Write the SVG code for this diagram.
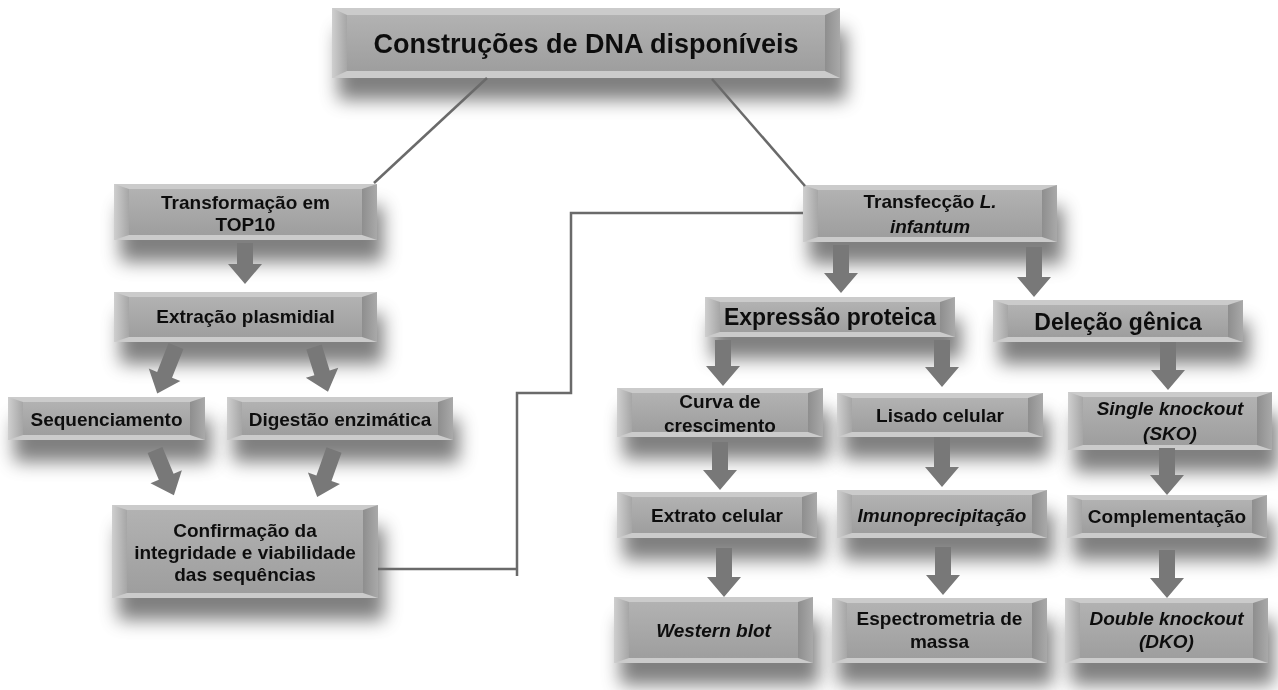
<svg xmlns="http://www.w3.org/2000/svg" width="1278" height="690" viewBox="0 0 1278 690">
<style>
.base{fill:#cbcbcb}
.face{fill:url(#gFace)}
.bl{fill:url(#gLeft)}
.br{fill:url(#gRight)}
.t{font-family:"Liberation Sans",Arial,sans-serif;font-weight:bold;font-size:19px;fill:#111;text-anchor:middle}
.it{font-style:italic}
.big{font-size:23px}
.conn{fill:none;stroke:#6a6a6a;stroke-width:2.5}
.arr{fill:#787878}
</style>
<defs>
<linearGradient id="gFace" x1="0" y1="0" x2="0" y2="1"><stop offset="0" stop-color="#b2b2b2"/><stop offset="1" stop-color="#9e9e9e"/></linearGradient>
<linearGradient id="gLeft" x1="0" y1="0" x2="1" y2="0"><stop offset="0" stop-color="#cfcfcf"/><stop offset="1" stop-color="#a6a6a6"/></linearGradient>
<linearGradient id="gRight" x1="0" y1="0" x2="1" y2="0"><stop offset="0" stop-color="#8e8e8e"/><stop offset="1" stop-color="#a9a9a9"/></linearGradient>
<filter id="sh" x="-25%" y="-50%" width="155%" height="320%">
<feGaussianBlur in="SourceAlpha" stdDeviation="9"/>
<feOffset dx="6" dy="22" result="b"/>
<feFlood flood-color="#000" flood-opacity="0.5"/>
<feComposite in2="b" operator="in"/>
<feMerge><feMergeNode/><feMergeNode in="SourceGraphic"/></feMerge>
</filter>
</defs>
<rect width="1278" height="690" fill="#fff"/>

<g id="n-top" filter="url(#sh)">
<rect class="base" x="332" y="8" width="508" height="70"/>
<rect class="face" x="347" y="15" width="478" height="56"/>
<polygon class="bl" points="332,8 347,15 347,71 332,78"/>
<polygon class="br" points="840,8 825,15 825,71 840,78"/>
<text class="t" style="font-size:27px" x="586" y="53">Construções de DNA disponíveis</text>
</g>

<g id="n-transf" filter="url(#sh)">
<rect class="base" x="114" y="184" width="263" height="56"/>
<rect class="face" x="129" y="189" width="233" height="46"/>
<polygon class="bl" points="114,184 129,189 129,235 114,240"/>
<polygon class="br" points="377,184 362,189 362,235 377,240"/>
<text class="t" x="245.5" y="209">Transformação em</text>
<text class="t" x="245.5" y="231">TOP10</text>
</g>

<g id="n-extr" filter="url(#sh)">
<rect class="base" x="114" y="292" width="263" height="50"/>
<rect class="face" x="129" y="297" width="233" height="40"/>
<polygon class="bl" points="114,292 129,297 129,337 114,342"/>
<polygon class="br" points="377,292 362,297 362,337 377,342"/>
<text class="t" x="245.5" y="323">Extração plasmidial</text>
</g>

<g id="n-seq" filter="url(#sh)">
<rect class="base" x="8" y="397" width="197" height="43"/>
<rect class="face" x="23" y="402" width="167" height="33"/>
<polygon class="bl" points="8,397 23,402 23,435 8,440"/>
<polygon class="br" points="205,397 190,402 190,435 205,440"/>
<text class="t" x="106.5" y="426">Sequenciamento</text>
</g>

<g id="n-dig" filter="url(#sh)">
<rect class="base" x="227" y="397" width="226" height="43"/>
<rect class="face" x="242" y="402" width="196" height="33"/>
<polygon class="bl" points="227,397 242,402 242,435 227,440"/>
<polygon class="br" points="453,397 438,402 438,435 453,440"/>
<text class="t" x="340" y="426">Digestão enzimática</text>
</g>

<g id="n-conf" filter="url(#sh)">
<rect class="base" x="112" y="505" width="266" height="93"/>
<rect class="face" x="127" y="510" width="236" height="83"/>
<polygon class="bl" points="112,505 127,510 127,593 112,598"/>
<polygon class="br" points="378,505 363,510 363,593 378,598"/>
<text class="t" x="245" y="537">Confirmação da</text>
<text class="t" x="245" y="559">integridade e viabilidade</text>
<text class="t" x="245" y="581">das sequências</text>
</g>

<g id="n-transfec" filter="url(#sh)">
<rect class="base" x="803" y="185" width="254" height="57"/>
<rect class="face" x="818" y="190" width="224" height="47"/>
<polygon class="bl" points="803,185 818,190 818,237 803,242"/>
<polygon class="br" points="1057,185 1042,190 1042,237 1057,242"/>
<text class="t" x="930" y="208">Transfecção <tspan class="it">L.</tspan></text>
<text class="t it" x="930" y="233">infantum</text>
</g>

<g id="n-expr" filter="url(#sh)">
<rect class="base" x="705" y="297" width="250" height="40"/>
<rect class="face" x="720" y="302" width="220" height="30"/>
<polygon class="bl" points="705,297 720,302 720,332 705,337"/>
<polygon class="br" points="955,297 940,302 940,332 955,337"/>
<text class="t big" x="830" y="325">Expressão proteica</text>
</g>

<g id="n-del" filter="url(#sh)">
<rect class="base" x="993" y="300" width="250" height="42"/>
<rect class="face" x="1008" y="305" width="220" height="32"/>
<polygon class="bl" points="993,300 1008,305 1008,337 993,342"/>
<polygon class="br" points="1243,300 1228,305 1228,337 1243,342"/>
<text class="t big" x="1118" y="330">Deleção gênica</text>
</g>

<g id="n-curva" filter="url(#sh)">
<rect class="base" x="617" y="388" width="206" height="49"/>
<rect class="face" x="632" y="393" width="176" height="39"/>
<polygon class="bl" points="617,388 632,393 632,432 617,437"/>
<polygon class="br" points="823,388 808,393 808,432 823,437"/>
<text class="t" x="720" y="408">Curva de</text>
<text class="t" x="720" y="432">crescimento</text>
</g>

<g id="n-lisado" filter="url(#sh)">
<rect class="base" x="837" y="393" width="206" height="44"/>
<rect class="face" x="852" y="398" width="176" height="34"/>
<polygon class="bl" points="837,393 852,398 852,432 837,437"/>
<polygon class="br" points="1043,393 1028,398 1028,432 1043,437"/>
<text class="t" x="940" y="422">Lisado celular</text>
</g>

<g id="n-sko" filter="url(#sh)">
<rect class="base" x="1068" y="392" width="204" height="58"/>
<rect class="face" x="1083" y="397" width="174" height="48"/>
<polygon class="bl" points="1068,392 1083,397 1083,445 1068,450"/>
<polygon class="br" points="1272,392 1257,397 1257,445 1272,450"/>
<text class="t it" x="1170" y="415">Single knockout</text>
<text class="t it" x="1170" y="440">(SKO)</text>
</g>

<g id="n-extrato" filter="url(#sh)">
<rect class="base" x="617" y="492" width="200" height="46"/>
<rect class="face" x="632" y="497" width="170" height="36"/>
<polygon class="bl" points="617,492 632,497 632,533 617,538"/>
<polygon class="br" points="817,492 802,497 802,533 817,538"/>
<text class="t" x="717" y="522">Extrato celular</text>
</g>

<g id="n-imuno" filter="url(#sh)">
<rect class="base" x="837" y="490" width="210" height="48"/>
<rect class="face" x="852" y="495" width="180" height="38"/>
<polygon class="bl" points="837,490 852,495 852,533 837,538"/>
<polygon class="br" points="1047,490 1032,495 1032,533 1047,538"/>
<text class="t it" x="942" y="522">Imunoprecipitação</text>
</g>

<g id="n-compl" filter="url(#sh)">
<rect class="base" x="1067" y="495" width="200" height="43"/>
<rect class="face" x="1082" y="500" width="170" height="33"/>
<polygon class="bl" points="1067,495 1082,500 1082,533 1067,538"/>
<polygon class="br" points="1267,495 1252,500 1252,533 1267,538"/>
<text class="t" x="1167" y="523">Complementação</text>
</g>

<g id="n-western" filter="url(#sh)">
<rect class="base" x="614" y="597" width="199" height="66"/>
<rect class="face" x="629" y="602" width="169" height="56"/>
<polygon class="bl" points="614,597 629,602 629,658 614,663"/>
<polygon class="br" points="813,597 798,602 798,658 813,663"/>
<text class="t it" x="713.5" y="637">Western blot</text>
</g>

<g id="n-espec" filter="url(#sh)">
<rect class="base" x="832" y="598" width="215" height="65"/>
<rect class="face" x="847" y="603" width="185" height="55"/>
<polygon class="bl" points="832,598 847,603 847,658 832,663"/>
<polygon class="br" points="1047,598 1032,603 1032,658 1047,663"/>
<text class="t" x="939.5" y="625">Espectrometria de</text>
<text class="t" x="939.5" y="648">massa</text>
</g>

<g id="n-dko" filter="url(#sh)">
<rect class="base" x="1065" y="598" width="203" height="65"/>
<rect class="face" x="1080" y="603" width="173" height="55"/>
<polygon class="bl" points="1065,598 1080,603 1080,658 1065,663"/>
<polygon class="br" points="1268,598 1253,603 1253,658 1268,663"/>
<text class="t it" x="1166.5" y="625">Double knockout</text>
<text class="t it" x="1166.5" y="648">(DKO)</text>
</g>

<g id="connectors">
<line class="conn" x1="487" y1="78" x2="374" y2="183"/>
<line class="conn" x1="712" y1="79" x2="805" y2="186"/>
<path class="conn" d="M378,569 H517 M517,576 V393 H571 V213 H803"/>
<polygon class="arr" points="237,243 253,243 253,264 262,264 245,284 228,264 237,264"/>
<polygon class="arr" points="833,245 849,245 849,273 858,273 841,293 824,273 833,273"/>
<polygon class="arr" points="1026,247 1042,247 1042,277 1051,277 1034,297 1017,277 1026,277"/>
<polygon class="arr" points="715,340 731,340 731,366 740,366 723,386 706,366 715,366"/>
<polygon class="arr" points="934,340 950,340 950,367 959,367 942,387 925,367 934,367"/>
<polygon class="arr" points="934,437 950,437 950,467 959,467 942,487 925,467 934,467"/>
<polygon class="arr" points="935,547 951,547 951,575 960,575 943,595 926,575 935,575"/>
<polygon class="arr" points="712,442 728,442 728,470 737,470 720,490 703,470 712,470"/>
<polygon class="arr" points="716,548 732,548 732,577 741,577 724,597 707,577 716,577"/>
<polygon class="arr" points="1160,342 1176,342 1176,370 1185,370 1168,390 1151,370 1160,370"/>
<polygon class="arr" points="1159,448 1175,448 1175,475 1184,475 1167,495 1150,475 1159,475"/>
<polygon class="arr" points="1159,550 1175,550 1175,578 1184,578 1167,598 1150,578 1159,578"/>
<polygon class="arr" transform="translate(176,346) rotate(21.6)" points="-8,0 8,0 8,31 17,31 0,51 -17,31 -8,31"/>
<polygon class="arr" transform="translate(314,347) rotate(-17.3)" points="-8,0 8,0 8,27 17,27 0,47 -17,27 -8,27"/>
<polygon class="arr" transform="translate(155,450) rotate(-22.7)" points="-8,0 8,0 8,29 17,29 0,49 -17,29 -8,29"/>
<polygon class="arr" transform="translate(334,450) rotate(19.6)" points="-8,0 8,0 8,30 17,30 0,50 -17,30 -8,30"/>
</g>
</svg>
